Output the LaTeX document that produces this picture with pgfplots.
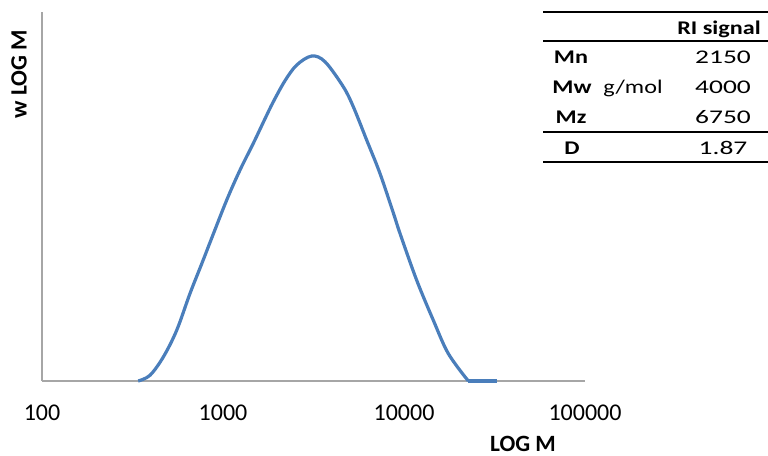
\documentclass[border=0pt]{standalone}
\usepackage{fontspec}
\setmainfont{Carlito}
\usepackage{graphicx}
\usepackage{pgfplots}
\pgfplotsset{compat=1.18}
\definecolor{xlblue}{HTML}{4A7EBB}
\definecolor{axgray}{HTML}{A6A6A6}
\newcommand{\tb}[1]{\scalebox{1.25}[1]{#1}}
\newcommand{\tn}[1]{\scalebox{1.42}[1]{#1}}
\begin{document}
\begin{tikzpicture}[x=0.75pt,y=0.75pt]
\path[use as bounding box] (0,0) rectangle (768,456);
\begin{axis}[
 at={(31.5pt,56.25pt)}, anchor=south west,
 scale only axis, width=407.25pt, height=276.75pt,
 xmode=log, xmin=100, xmax=100000, ymin=0, ymax=368.7,
 axis x line=bottom, axis y line=left,
 axis line style={-, draw=axgray, line width=1pt},
 ytick=\empty, xtick={100,1000,10000,100000},
 xticklabels={100,1000,10000,100000},
 major tick length=0pt, minor tick length=0pt,
 xticklabel style={font=\fontsize{18}{20}\selectfont, anchor=base, yshift=-29.5pt},
 /pgf/number format/assume math mode=true,
 clip=false,
]
\addplot[xlblue, line width=2.4pt, smooth, tension=0.55] coordinates {
(340,0) (395,5.7) (468,24) (555,50.7) (657,87.4) (778,121) (848,138.5)
(1048,180.7) (1241,210.7) (1470,237.4) (1706,262) (1897,279) (2200,300)
(2554,315.7) (3091,324.7) (3661,319) (4620,294) (5248,274) (6221,240.7)
(7368,207.4) (8728,168) (9506,147.4) (11750,100.7) (14520,60.7) (17570,27.4) (22660,0)
};
\addplot[xlblue, line width=2.4pt] coordinates {(22660,0) (32520,0)};
\end{axis}
% axis labels
\node[anchor=base, font=\fontsize{17.5}{20}\selectfont\bfseries] at (523,4.5) {LOG M};
\node[rotate=90, font=\fontsize{17.5}{20}\selectfont\bfseries] at (19,382) {w LOG M};
% table
\draw[black, line width=1.3pt] (543,444.3) -- (768,444.3);
\draw[black, line width=0.9pt] (543,415) -- (768,415);
\draw[black, line width=1.1pt] (543,324) -- (768,324);
\draw[black, line width=1.3pt] (543,294) -- (768,294);
\begin{scope}[every node/.style={anchor=base, font=\fontsize{14.5}{16}\selectfont, inner sep=0pt}]
\node[font=\fontsize{14.5}{16}\selectfont\bfseries] at (719,421.5) {\tb{RI signal}};
\node[font=\fontsize{14.5}{16}\selectfont\bfseries] at (571,392) {\tb{Mn}};
\node[font=\fontsize{14.5}{16}\selectfont\bfseries] at (572,362) {\tb{Mw}};
\node[font=\fontsize{14.5}{16}\selectfont\bfseries] at (571,332) {\tb{Mz}};
\node[font=\fontsize{14.5}{16}\selectfont\bfseries] at (572,301) {\tb{D}};
\node at (633,362) {\tb{g/mol}};
\node at (723,392) {\tn{2150}};
\node at (723,362) {\tn{4000}};
\node at (723,332) {\tn{6750}};
\node at (723,301) {\tn{1.87}};
\end{scope}
\end{tikzpicture}
\end{document}
